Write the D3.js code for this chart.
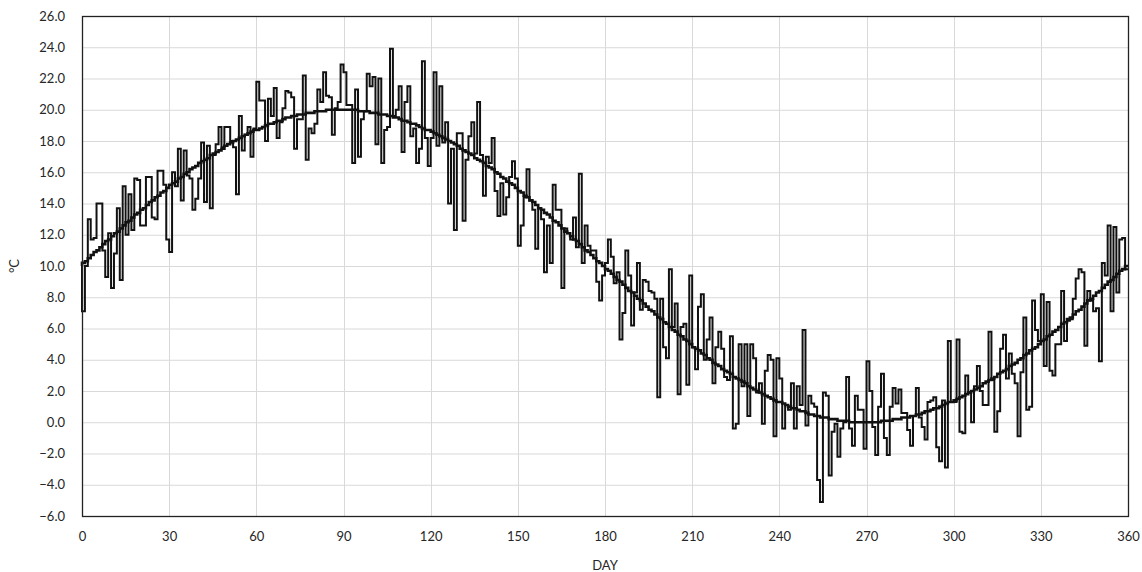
<!DOCTYPE html>
<html lang="en">
<head>
<meta charset="UTF-8">
<title>Daily temperature over one year</title>
<script src="https://d3js.org/d3.v7.min.js"></script>
<style>
  body { margin: 0; background: #fff; }
  .tick text { font-family: Lato, "Open Sans", sans-serif; font-size: 13px; fill: #262626; }
  .axis-title { font-family: Lato, "Open Sans", sans-serif; font-size: 13px; fill: #262626; }
  .grid line { stroke: #d9d9d9; stroke-width: 1; }
</style>
</head>
<body>
<svg width="1142" height="572"></svg>
<script>
// day numbers on the x axis (0 .. 360)
const days = d3.range(0, 361);

// measured daily temperature, value at index k is drawn for day k-1 .. k
const dailyTemp = [10.0,
  7.1, 10.0, 13.0, 11.7, 11.8, 14.0, 14.0, 11.0, 9.3, 12.1,
  8.6, 10.8, 13.7, 9.1, 15.1, 12.0, 14.6, 12.3, 15.6, 15.5,
  12.6, 12.6, 15.7, 15.7, 13.1, 13.0, 16.1, 16.1, 15.2, 11.7,
  10.9, 16.0, 15.1, 17.5, 14.2, 17.4, 15.8, 15.6, 13.6, 14.3,
  15.6, 17.9, 14.1, 17.7, 13.7, 17.1, 17.8, 18.9, 17.6, 18.9,
  18.9, 18.0, 17.6, 14.6, 19.6, 17.4, 18.4, 18.9, 17.0, 18.8,
  21.8, 20.6, 20.6, 18.0, 20.7, 19.6, 21.4, 18.2, 19.2, 20.1,
  21.2, 21.1, 20.8, 17.5, 19.4, 19.4, 22.2, 16.8, 18.8, 18.5,
  19.1, 21.3, 20.5, 22.4, 20.9, 20.8, 18.4, 20.1, 20.5, 22.9,
  22.4, 20.3, 20.3, 16.6, 21.3, 17.0, 19.4, 19.9, 22.3, 21.5,
  22.1, 17.8, 22.0, 16.6, 18.7, 18.9, 23.9, 19.6, 20.0, 21.5,
  17.3, 20.5, 21.5, 18.3, 18.8, 16.6, 17.5, 23.1, 18.2, 16.4,
  18.2, 22.4, 17.7, 21.5, 17.9, 19.2, 14.0, 17.5, 12.3, 18.5,
  18.5, 12.9, 16.8, 18.3, 19.2, 17.2, 20.5, 17.1, 14.5, 17.0,
  16.6, 18.2, 14.8, 13.2, 15.3, 13.3, 14.4, 15.7, 16.7, 15.6,
  11.3, 12.6, 14.4, 16.2, 14.2, 13.6, 11.1, 13.7, 13.0, 9.6,
  12.6, 10.2, 15.2, 13.6, 13.6, 8.6, 12.4, 12.1, 11.7, 13.1,
  11.2, 15.9, 10.2, 12.6, 11.3, 11.0, 11.0, 9.0, 7.8, 9.4,
  10.2, 11.7, 10.6, 8.9, 9.6, 5.3, 7.0, 11.0, 9.4, 6.2,
  8.3, 10.2, 7.2, 9.1, 9.0, 8.4, 8.3, 7.9, 1.6, 7.9,
  4.8, 4.1, 9.8, 6.1, 7.6, 1.8, 6.1, 6.3, 2.4, 9.4,
  4.8, 3.4, 7.4, 8.2, 4.0, 5.3, 6.7, 2.5, 4.8, 5.8,
  4.7, 2.9, 2.7, 5.5, -0.4, -0.1, 5.0, 2.3, 5.0, 0.4,
  5.0, 4.1, 1.9, 2.5, -0.1, 3.3, 4.3, 4.0, -0.9, 4.1,
  2.8, -0.4, 1.1, 0.8, 2.5, -0.4, 2.3, 1.1, 5.9, -0.2,
  1.7, 1.2, 1.0, -3.7, -5.1, 1.9, 1.7, -3.4, -0.6, -0.1,
  -2.2, -0.4, 0.0, 2.9, -0.4, -1.5, 1.7, 0.8, 0.8, -1.7,
  3.9, 2.0, -0.3, -2.1, 1.0, 3.1, -1.0, -2.1, 1.0, 2.2,
  1.2, 2.1, 0.6, 0.6, -0.5, -1.5, 0.4, 2.2, 0.3, -0.3,
  -1.1, 1.3, 1.4, 1.6, -1.6, -2.5, 1.4, -2.9, 5.2, 1.3,
  1.3, 5.3, -0.6, -0.7, 3.0, 1.9, 0.0, 2.3, 3.6, 2.0,
  1.1, 1.1, 5.8, 2.7, -0.6, 0.7, 4.7, 5.6, 2.8, 4.4,
  3.1, 2.5, -0.9, 3.2, 6.7, 0.8, 1.0, 7.8, 5.9, 5.2,
  8.2, 3.6, 7.7, 3.3, 3.0, 5.0, 5.0, 8.4, 5.2, 6.5,
  6.6, 7.9, 9.2, 9.8, 9.6, 4.9, 8.4, 7.8, 7.1, 7.3,
  3.9, 10.2, 9.4, 12.6, 7.1, 12.5, 8.3, 11.7, 11.8, 9.8
];

// long-term mean temperature per day (0 .. 360)
const meanTemp = [
  10.0, 10.2, 10.3, 10.5, 10.7, 10.9, 11.0, 11.2, 11.4, 11.6,
  11.7, 11.9, 12.1, 12.2, 12.4, 12.6, 12.8, 12.9, 13.1, 13.3,
  13.4, 13.6, 13.7, 13.9, 14.1, 14.2, 14.4, 14.5, 14.7, 14.8,
  15.0, 15.2, 15.3, 15.4, 15.6, 15.7, 15.9, 16.0, 16.2, 16.3,
  16.4, 16.6, 16.7, 16.8, 16.9, 17.1, 17.2, 17.3, 17.4, 17.5,
  17.7, 17.8, 17.9, 18.0, 18.1, 18.2, 18.3, 18.4, 18.5, 18.6,
  18.7, 18.7, 18.8, 18.9, 19.0, 19.1, 19.1, 19.2, 19.3, 19.3,
  19.4, 19.5, 19.5, 19.6, 19.6, 19.7, 19.7, 19.7, 19.8, 19.8,
  19.8, 19.9, 19.9, 19.9, 19.9, 20.0, 20.0, 20.0, 20.0, 20.0,
  20.0, 20.0, 20.0, 20.0, 20.0, 20.0, 19.9, 19.9, 19.9, 19.9,
  19.8, 19.8, 19.8, 19.7, 19.7, 19.7, 19.6, 19.6, 19.5, 19.5,
  19.4, 19.3, 19.3, 19.2, 19.1, 19.1, 19.0, 18.9, 18.8, 18.7,
  18.7, 18.6, 18.5, 18.4, 18.3, 18.2, 18.1, 18.0, 17.9, 17.8,
  17.7, 17.5, 17.4, 17.3, 17.2, 17.1, 16.9, 16.8, 16.7, 16.6,
  16.4, 16.3, 16.2, 16.0, 15.9, 15.7, 15.6, 15.4, 15.3, 15.2,
  15.0, 14.8, 14.7, 14.5, 14.4, 14.2, 14.1, 13.9, 13.7, 13.6,
  13.4, 13.3, 13.1, 12.9, 12.8, 12.6, 12.4, 12.2, 12.1, 11.9,
  11.7, 11.6, 11.4, 11.2, 11.0, 10.9, 10.7, 10.5, 10.3, 10.2,
  10.0, 9.8, 9.7, 9.5, 9.3, 9.1, 9.0, 8.8, 8.6, 8.4,
  8.3, 8.1, 7.9, 7.8, 7.6, 7.4, 7.2, 7.1, 6.9, 6.7,
  6.6, 6.4, 6.3, 6.1, 5.9, 5.8, 5.6, 5.5, 5.3, 5.2,
  5.0, 4.8, 4.7, 4.6, 4.4, 4.3, 4.1, 4.0, 3.8, 3.7,
  3.6, 3.4, 3.3, 3.2, 3.1, 2.9, 2.8, 2.7, 2.6, 2.5,
  2.3, 2.2, 2.1, 2.0, 1.9, 1.8, 1.7, 1.6, 1.5, 1.4,
  1.3, 1.3, 1.2, 1.1, 1.0, 0.9, 0.9, 0.8, 0.7, 0.7,
  0.6, 0.5, 0.5, 0.4, 0.4, 0.3, 0.3, 0.3, 0.2, 0.2,
  0.2, 0.1, 0.1, 0.1, 0.1, 0.0, 0.0, 0.0, 0.0, 0.0,
  0.0, 0.0, 0.0, 0.0, 0.0, 0.0, 0.1, 0.1, 0.1, 0.1,
  0.2, 0.2, 0.2, 0.3, 0.3, 0.3, 0.4, 0.4, 0.5, 0.5,
  0.6, 0.7, 0.7, 0.8, 0.9, 0.9, 1.0, 1.1, 1.2, 1.3,
  1.3, 1.4, 1.5, 1.6, 1.7, 1.8, 1.9, 2.0, 2.1, 2.2,
  2.3, 2.5, 2.6, 2.7, 2.8, 2.9, 3.1, 3.2, 3.3, 3.4,
  3.6, 3.7, 3.8, 4.0, 4.1, 4.3, 4.4, 4.6, 4.7, 4.8,
  5.0, 5.2, 5.3, 5.5, 5.6, 5.8, 5.9, 6.1, 6.3, 6.4,
  6.6, 6.7, 6.9, 7.1, 7.2, 7.4, 7.6, 7.8, 7.9, 8.1,
  8.3, 8.4, 8.6, 8.8, 9.0, 9.1, 9.3, 9.5, 9.7, 9.8,
  10.0
];

const xTicks = [0, 30, 60, 90, 120, 150, 180, 210, 240, 270, 300, 330, 360];
const yTicks = [-6, -4, -2, 0, 2, 4, 6, 8, 10, 12, 14, 16, 18, 20, 22, 24, 26];

const svg = d3.select("svg"),
  margin = { top: 16, right: 14, bottom: 56, left: 82 },
  width = +svg.attr("width") - margin.left - margin.right,
  height = +svg.attr("height") - margin.top - margin.bottom;

const g = svg.append("g").attr("transform", `translate(${margin.left},${margin.top})`);

const x = d3.scaleLinear().domain([0, 360]).range([0, width]);
const y = d3.scaleLinear().domain([-6, 26]).range([height, 0]);

// gridlines
g.append("g").attr("class", "grid")
  .selectAll("line").data(yTicks).join("line")
  .attr("x1", 0).attr("x2", width)
  .attr("y1", d => y(d) + 0.5).attr("y2", d => y(d) + 0.5);
g.append("g").attr("class", "grid")
  .selectAll("line").data(xTicks).join("line")
  .attr("y1", 0).attr("y2", height)
  .attr("x1", d => Math.round(x(d)) + 0.5).attr("x2", d => Math.round(x(d)) + 0.5);

// axes (labels only, frame is drawn below)
const xAxis = g.append("g").attr("transform", `translate(0,${height})`)
  .call(d3.axisBottom(x).tickValues(xTicks).tickSize(0).tickPadding(16).tickFormat(d3.format("d")));
const yAxis = g.append("g")
  .call(d3.axisLeft(y).tickValues(yTicks).tickSize(0).tickPadding(17).tickFormat(d3.format(".1f")));
xAxis.select(".domain").remove();
yAxis.select(".domain").remove();

// lines
const stepLine = d3.line()
  .x((d, i) => x(days[i]))
  .y(d => y(d))
  .curve(d3.curveStepBefore);

g.append("path")
  .datum(dailyTemp)
  .attr("fill", "none")
  .attr("stroke", "#111")
  .attr("stroke-width", 2)
  .attr("stroke-linejoin", "miter")
  .attr("d", stepLine);

g.append("path")
  .datum(meanTemp)
  .attr("fill", "none")
  .attr("stroke", "#111")
  .attr("stroke-width", 2.6)
  .attr("d", stepLine);

// plot frame
g.append("rect")
  .attr("x", 0.5).attr("y", 0.5)
  .attr("width", width).attr("height", height)
  .attr("fill", "none")
  .attr("stroke", "#222")
  .attr("stroke-width", 1.3);

// axis titles
svg.append("text").attr("class", "axis-title")
  .attr("x", margin.left + width / 2).attr("y", 570)
  .attr("text-anchor", "middle")
  .text("DAY");
svg.append("text").attr("class", "axis-title")
  .attr("transform", `translate(19,${margin.top + height / 2}) rotate(-90)`)
  .attr("text-anchor", "middle")
  .text("°C");
</script>
</body>
</html>
